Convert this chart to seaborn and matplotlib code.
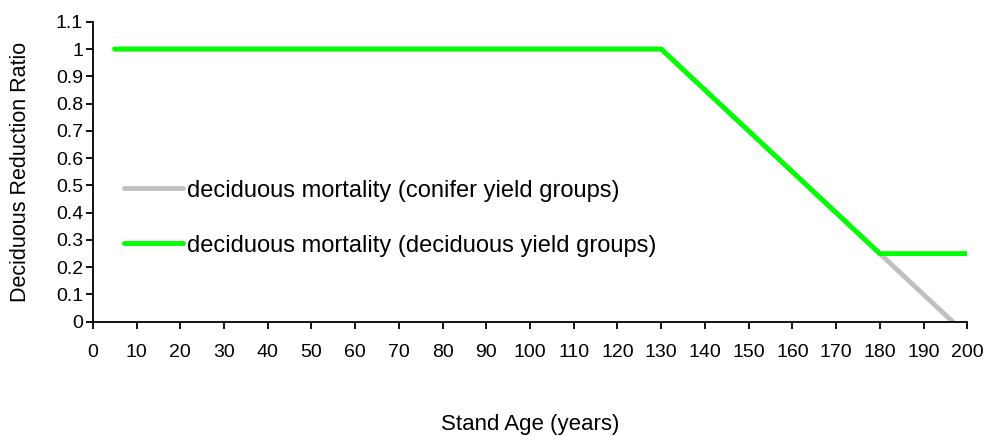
import numpy as np
import pandas as pd
import matplotlib.pyplot as plt
import seaborn as sns

# stand age (years) and reduction ratio
age = [5, 130, 135, 140, 145, 150, 155, 160, 165, 170, 175, 180, 185, 190, 195, 200]
conifer = [1, 1, 0.925, 0.85, 0.775, 0.7, 0.625, 0.55, 0.475, 0.4, 0.325, 0.25,
           0.175, 0.1, 0.025, -0.05]
deciduous = [1, 1, 0.925, 0.85, 0.775, 0.7, 0.625, 0.55, 0.475, 0.4, 0.325, 0.25,
             0.25, 0.25, 0.25, 0.25]

lab_con = "deciduous mortality (conifer yield groups)"
lab_dec = "deciduous mortality (deciduous yield groups)"

df = pd.DataFrame({
    "age": age * 2,
    "ratio": conifer + deciduous,
    "series": [lab_con] * len(age) + [lab_dec] * len(age),
})

sns.set_style("ticks")
plt.rcParams["font.family"] = ["Liberation Sans", "DejaVu Sans"]
plt.rcParams["text.color"] = "black"
plt.rcParams["axes.labelcolor"] = "black"

fig = plt.figure(figsize=(9.87, 4.36), dpi=100)
ax = fig.add_axes([0.094, 0.262, 0.886, 0.688])

sns.lineplot(data=df, x="age", y="ratio", hue="series",
             palette={lab_con: "#c0c0c0", lab_dec: "#00ff00"},
             linewidth=3.5, ax=ax, solid_capstyle="round")

ax.set_xlim(0, 200)
ax.set_ylim(0, 1.1)
ax.set_xticks(np.arange(0, 201, 10))
ax.set_yticks(np.arange(0, 1.11, 0.1))
ax.set_yticklabels(["0", "0.1", "0.2", "0.3", "0.4", "0.5", "0.6", "0.7", "0.8",
                    "0.9", "1", "1.1"])
ax.tick_params(labelsize=14, direction="out", length=5, width=1.3, colors="black")
ax.tick_params(axis="x", pad=11)
ax.tick_params(axis="y", pad=2)
for s in ["top", "right"]:
    ax.spines[s].set_visible(False)
for s in ["left", "bottom"]:
    ax.spines[s].set_color("black")
    ax.spines[s].set_linewidth(1.3)

ax.set_xlabel("Stand Age (years)", fontsize=16, labelpad=38)
ax.set_ylabel("Deciduous Reduction Ratio", fontsize=15.5, labelpad=18)

leg = ax.legend(loc="upper left", bbox_to_anchor=(0.011, 0.545), frameon=False,
                fontsize=17, handlelength=2.5, handletextpad=0.2, labelspacing=1.4)

fig.savefig("out.png", dpi=100)
